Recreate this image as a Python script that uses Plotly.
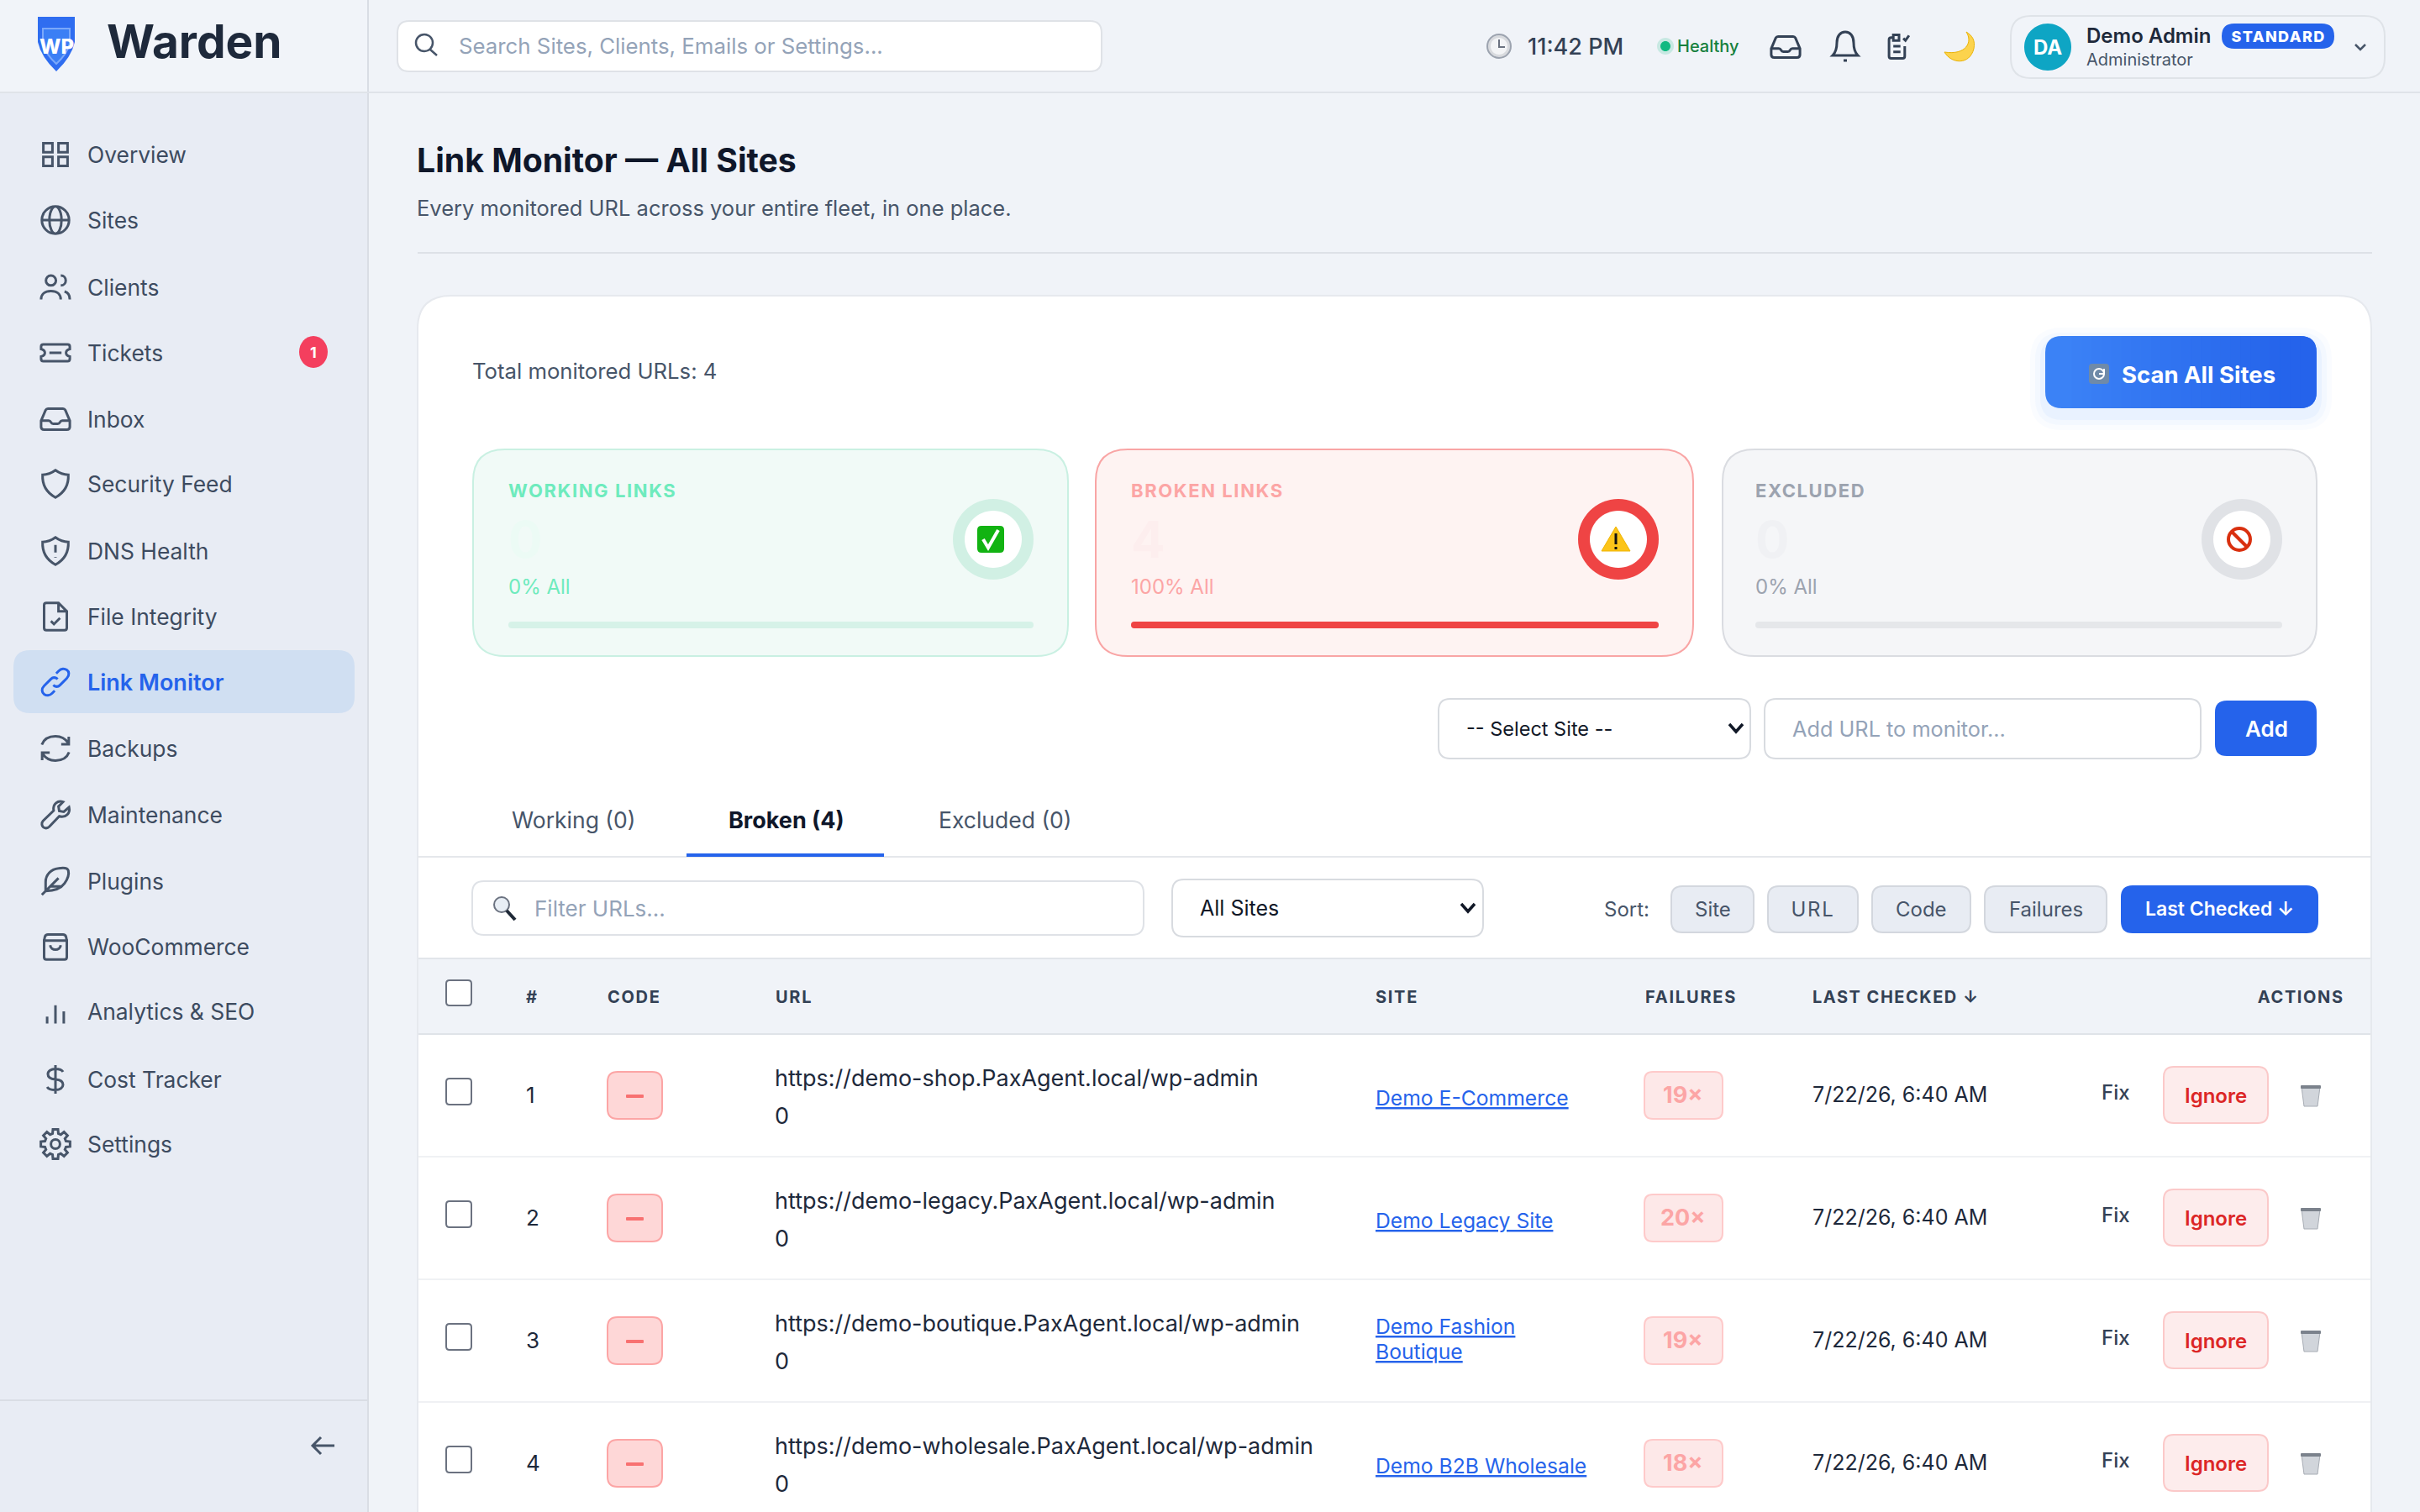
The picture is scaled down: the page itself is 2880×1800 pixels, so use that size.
import json
import math
import re
import plotly.graph_objects as go

# ---------- content ----------
NAV_LABELS = ["Overview", "Sites", "Clients", "Tickets", "Inbox", "Security Feed", "DNS Health",
              "File Integrity", "Link Monitor", "Backups", "Maintenance", "Plugins", "WooCommerce",
              "Analytics & SEO", "Cost Tracker", "Settings"]
NAV_ICONS = ["overview", "sites", "clients", "tickets", "inbox", "shield", "dns", "file", "link",
             "backups", "wrench", "feather", "bag", "bars", "dollar", "gear"]
NAV_Y = [184, 262, 342, 420, 499, 576, 656, 734, 812, 891, 970, 1049, 1127, 1204, 1285, 1362]

STAT_LABELS = ["WORKING LINKS", "BROKEN LINKS", "EXCLUDED"]
STAT_VALUES = ["0", "4", "0"]
STAT_SHARES = [0, 100, 0]

TAB_LABELS = ["Working (0)", "Broken (4)", "Excluded (0)"]
SORT_LABELS = ["Site", "URL", "Code", "Failures", "Last Checked ↓"]
ROW_IDS = ["1", "2", "3", "4"]
ROW_URLS = ["https://demo-shop.PaxAgent.local/wp-admin", "https://demo-legacy.PaxAgent.local/wp-admin",
            "https://demo-boutique.PaxAgent.local/wp-admin", "https://demo-wholesale.PaxAgent.local/wp-admin"]
ROW_SITES = [["Demo E-Commerce"], ["Demo Legacy Site"], ["Demo Fashion", "Boutique"], ["Demo B2B Wholesale"]]
ROW_FAILS = ["19×", "20×", "19×", "18×"]
ROW_CHECKED = ["7/22/26, 6:40 AM"] * 4
HEAD_LABELS = ["#", "CODE", "URL", "SITE", "FAILURES", "LAST CHECKED ↓"]

INTER = "Inter"
shapes, notes = [], []
TRACKED = {"WORKING LINKS": 1.6, "BROKEN LINKS": 1.6, "EXCLUDED": 1.6, "STANDARD": 1.4,
           "#": 0, "CODE": 1.7, "URL": 1.7, "SITE": 1.7, "FAILURES": 1.8, "LAST CHECKED ↓": 1.5, "ACTIONS": 1.6}


# ---------- helpers ----------
def text(x, y, s, size=26, color="#475569", weight=400, anchor="left", under=False, family=INTER):
    font = dict(family=family, size=size, color=color, weight=weight)
    if under:
        font["lineposition"] = "under"
    notes.append(dict(x=x, y=y, xref="x", yref="y", text=s, showarrow=False, xanchor=anchor, align=anchor,
                      yanchor="middle", font=font, borderpad=0, borderwidth=0))


def path(d, fill=None, line=None, width=0, opacity=1.0):
    shapes.append(dict(type="path", path=d, xref="x", yref="y", fillcolor=fill or "rgba(0,0,0,0)",
                       line=dict(color=line or "rgba(0,0,0,0)", width=width), opacity=opacity))


def rr(x0, y0, x1, y1, r):
    return (f"M{x0+r} {y0} L{x1-r} {y0} Q{x1} {y0} {x1} {y0+r} L{x1} {y1-r} Q{x1} {y1} {x1-r} {y1} "
            f"L{x0+r} {y1} Q{x0} {y1} {x0} {y1-r} L{x0} {y0+r} Q{x0} {y0} {x0+r} {y0} Z")


def box(x0, y0, x1, y1, r=0, fill=None, line=None, width=0, opacity=1.0):
    path(rr(x0, y0, x1, y1, r), fill, line, width, opacity)


def circ(cx, cy, rx, ry=None):
    ry = rx if ry is None else ry
    k = 0.5523
    return (f"M{cx-rx} {cy} C{cx-rx} {cy-k*ry} {cx-k*rx} {cy-ry} {cx} {cy-ry} "
            f"C{cx+k*rx} {cy-ry} {cx+rx} {cy-k*ry} {cx+rx} {cy} "
            f"C{cx+rx} {cy+k*ry} {cx+k*rx} {cy+ry} {cx} {cy+ry} "
            f"C{cx-k*rx} {cy+ry} {cx-rx} {cy+k*ry} {cx-rx} {cy} Z")


def place(d, cx, cy, s=1.5, box_size=24):
    out, is_x = [], True
    for tok in re.findall(r"[A-Za-z]|-?\d+\.?\d*", d):
        if tok.isalpha():
            out.append(tok)
            is_x = True
        else:
            v = float(tok) - box_size / 2
            out.append(f"{(cx if is_x else cy) + v * s:.2f}")
            is_x = not is_x
    return " ".join(out)


def gear():
    pts = []
    n = 8
    for i in range(n):
        a = 2 * math.pi * i / n
        for da, r in ((-0.27, 7.2), (-0.17, 9.8), (0.17, 9.8), (0.27, 7.2)):
            pts.append((12 + r * math.cos(a + da), 12 + r * math.sin(a + da)))
    return "M" + " L".join(f"{x:.2f} {y:.2f}" for x, y in pts) + " Z " + circ(12, 12, 3)


SHIELD = "M12 3 Q16 6 20.5 6 Q21 16 12 21 Q3 16 3.5 6 Q8 6 12 3 Z"
ICONS = {
    "overview": "M4 4.5 L10 4.5 L10 10.5 L4 10.5 Z M14 4.5 L20 4.5 L20 10.5 L14 10.5 Z "
                "M4 13.5 L10 13.5 L10 19.5 L4 19.5 Z M14 13.5 L20 13.5 L20 19.5 L14 19.5 Z",
    "sites": circ(12, 12, 9) + " " + circ(12, 12, 4, 9) + " M3 12 L21 12",
    "clients": circ(9, 7.5, 3.3) + " M2.5 20 C2.5 16.5 5 14.5 9 14.5 C13 14.5 15.5 16.5 15.5 20 "
               "M15.5 4.2 C17.5 4.2 18.8 5.8 18.8 7.5 C18.8 9.2 17.5 10.8 15.5 10.8 "
               "M18 14.8 C20.2 15.4 21.5 17.4 21.5 20",
    "tickets": "M4 6.5 L20 6.5 Q21.5 6.5 21.5 8 L21.5 9.5 Q19 10.2 19 12 Q19 13.8 21.5 14.5 L21.5 16 "
               "Q21.5 17.5 20 17.5 L4 17.5 Q2.5 17.5 2.5 16 L2.5 14.5 Q5 13.8 5 12 Q5 10.2 2.5 9.5 "
               "L2.5 8 Q2.5 6.5 4 6.5 Z M8 12 L16 12",
    "inbox": "M2.5 13 L5.5 6 Q6 5 7 5 L17 5 Q18 5 18.5 6 L21.5 13 L21.5 17 Q21.5 19 19.5 19 L4.5 19 "
             "Q2.5 19 2.5 17 Z M2.5 13 L7.5 13 Q8.5 13 9 14 Q9.5 15 10.5 15 L13.5 15 Q14.5 15 15 14 "
             "Q15.5 13 16.5 13 L21.5 13",
    "shield": SHIELD,
    "dns": SHIELD + " M12 8 L12 13 M12 16 L12 16.4",
    "file": "M7 3 L14 3 L19.5 8.5 L19.5 19.5 Q19.5 21 18 21 L6 21 Q4.5 21 4.5 19.5 L4.5 4.5 Q4.5 3 6 3 Z "
            "M14 3 L14 8.5 L19.5 8.5 M9 15 L11 17 L15 13",
    "link": "M10.5 14 Q13 16 15 14 L19.5 9.5 C21.5 7.5 21 5 19.5 4 C18 3 15.8 3 14.3 4.5 L12.5 6.3 "
            "M13.5 10 Q11 8 9 10 L4.5 14.5 C2.5 16.5 3 19 4.5 20 C6 21 8.2 21 9.7 19.5 L11.5 17.7",
    "backups": "M3 9.5 C4.5 5.5 8 4 12 4 C15.5 4 18.5 5.5 20.5 8.5 M20.8 4.2 L20.8 9.2 L15.8 9.2 "
               "M21 14.5 C19.5 18.5 16 20 12 20 C8.5 20 5.5 18.5 3.5 15.5 M3.2 19.8 L3.2 14.8 L8.2 14.8",
    "wrench": "M21 7 L17.5 10 L14.5 9.5 L14 6.5 L17 3.5 C13.5 2.2 10 5 10.8 9.2 L3.8 16 C2.5 17.5 3 19.5 4 20.2 "
              "C5.2 21 6.8 21 8 19.8 L14.5 13 C18.8 14.2 22 11 21 7 Z",
    "feather": "M3 21 L14 10 M5.5 18.5 L5.5 12.5 C5.5 8 9 4 14 3.5 C17 3 20 3 20.5 5 C21 7 20.5 10 18 13.5 "
               "C15.5 17 11 18.5 5.5 18.5 Z M9 15.5 L15.5 15.5",
    "bag": "M4.5 8 L19.5 8 L19.5 19 Q19.5 20.5 18 20.5 L6 20.5 Q4.5 20.5 4.5 19 Z M4.5 8 L5 5.5 Q5.5 4 7 4 "
           "L17 4 Q18.5 4 19 5.5 L19.5 8 M8.5 11 C9 15 15 15 15.5 11",
    "bars": "M6.5 20 L6.5 15.5 M12 20 L12 8 M17.5 20 L17.5 12",
    "dollar": "M12 2.5 L12 21.5 M17 7 C16 5.2 14 5 12 5 C9 5 7 6.5 7 8.5 C7 11 9.5 11.8 12 12 "
              "C14.5 12.2 17 13 17 15.5 C17 17.5 15 19 12 19 C9.5 19 7.5 18.7 6.5 17",
    "gear": gear(),
    "bell": "M4.5 17.5 C6.5 15.5 7 12 7 10 C7 6 9 3.5 12 3.5 C15 3.5 17 6 17 10 C17 12 17.5 15.5 19.5 17.5 Z "
            "M11 20.5 L13 20.5",
    "clip": "M7.5 6 L6.5 6 Q5 6 5 7.5 L5 19 Q5 20.5 6.5 20.5 L14.5 20.5 Q16 20.5 16 19 L16 12 "
            "M8 4 L12 4 L12 8 L8 8 Z M8 12 L13 12 M8 16 L13 16 M15 6.5 L16.5 8 L19 4.5",
}


def icon(name, cx, cy, color="#475569", s=1.8, width=3):
    path(place(ICONS[name], cx, cy, s), None, color, width)


# ---------- page frame ----------
PAGE = "#f0f3f8"
box(0, 110, 438, 1800, 0, "#e8ecf4")
box(0, 0, 438, 110, 0, "#f1f4f9")
box(437, 0, 439, 1800, 0, "#d9dde4")
box(0, 109, 2880, 111, 0, "#dfe3e9")

# logo
path("M45 20 L89 20 L89 50 Q85 68 67 85 Q49 68 45 50 Z", "#2f6df0")
path("M51 34 L83 34 L83 52 Q80 64 67 76 Q54 64 51 52 Z", "#3b7ff5", "#7aa8fa", 2)
text(67, 55, "WP", 24, "#ffffff", 800, "center")
text(127, 49, "Warden", 55, "#1e293b", 700)

# search
box(473, 25, 1311, 85, 14, "#ffffff", "#dfe2e7", 2)
path(circ(505, 51, 10) + " M512 59 L520 66", None, "#475569", 2.5)
text(546, 54, "Search Sites, Clients, Emails or Settings...", 25.8, "#94a3b8")

# header right
path(circ(1784, 55, 14), "#d8dade", "#9ca3af", 2)
path(circ(1784, 55, 10), "#f3f4f6")
path("M1784 47 L1784 56 L1791 56", None, "#6b7280", 2)
text(1818, 55, "11:42 PM", 27, "#334155", 500)
path(circ(1982, 55, 10), "#10b981", opacity=0.18)
path(circ(1982, 55, 6), "#10b981")
text(1996, 55, "Healthy", 20, "#15803d", 500)
icon("inbox", 2125, 56, "#334155", 1.8)
icon("bell", 2196, 55, "#334155", 2.0)
icon("clip", 2260, 55, "#334155", 1.7)
path("M2340 38 C2348 50 2340 66 2314 62 C2322 76 2344 78 2349 58 C2351 48 2347 42 2340 38 Z", "#fcd34d", "#eab308", 1)
box(2393, 19, 2838, 93, 24, "#f1f4f9", "#dfe3e8", 2)
path(circ(2437, 56, 28), "#0ea5c4")
text(2437, 56, "DA", 24, "#ffffff", 700, "center")
text(2483, 42, "Demo Admin", 24, "#1e293b", 600)
box(2644, 28, 2778, 58, 15, "#2563eb")
text(2711, 43, "STANDARD", 18, "#ffffff", 800, "center")
text(2483, 71, "Administrator", 20, "#475569", 400)
path("M2803 53 L2809 59 L2815 53", None, "#475569", 2.5)

# sidebar
box(16, 774, 422, 849, 20, "#d0dff2")
for label, ic, y in zip(NAV_LABELS, NAV_ICONS, NAV_Y):
    active = label == "Link Monitor"
    icon(ic, 66, y, "#2563eb" if active else "#475569")
    text(104, y, label, 27 if active else 26.4, "#2563eb" if active else "#3d4b60", 600 if active else 400)
path(circ(373, 419, 17, 19), "#f43f5e")
text(373, 419, "1", 18, "#ffffff", 700, "center")
box(0, 1666, 438, 1668, 0, "#d9dde4")
path("M398 1721 L372 1721 M382 1711 L372 1721 L382 1731", None, "#475569", 3)

# page title
text(496, 190, "Link Monitor — All Sites", 39.2, "#0f172a", 700)
text(496, 247, "Every monitored URL across your entire fleet, in one place.", 25.5, "#475569")
box(497, 300, 2823, 302, 0, "#dde1e7")

# main card
box(497, 352, 2822, 1840, 40, "#ffffff", "#e6e9ee", 2)
text(562, 441, "Total monitored URLs: 4", 25.7, "#475569")

# scan button
for grow, alpha in ((18, 0.025), (12, 0.035), (6, 0.05)):
    box(2434 - grow, 400 - grow + 8, 2757 + grow, 486 + grow + 8, 20 + grow, "#3b82f6", opacity=alpha)
box(2434, 400, 2757, 486, 20, "#3b82f6")
box(2600, 400, 2757, 486, 20, "#2563eb")
STRIPS = 24
for i in range(STRIPS):
    t = i / (STRIPS - 1)
    col = f"rgb({int(59 - 22 * t)},{int(130 - 31 * t)},{int(246 - 11 * t)})"
    box(2454 + 283 * i / STRIPS, 400, 2454 + 283 * (i + 1) / STRIPS + 0.5, 486, 0, col)
box(2486, 433, 2510, 457, 4, "#6f8aa8")
path(circ(2498, 445, 6) + " M2504 439 L2504 445 L2498 445", None, "#ffffff", 2)
text(2525, 446, "Scan All Sites", 27.5, "#ffffff", 700)

# stat cards
CARD_X = [(563, 1271), (1304, 2015), (2050, 2757)]
LABEL_X = [605, 1346, 2089]
CARD_FILL = ["#f1faf7", "#fef3f2", "#f5f6f8"]
CARD_EDGE = ["#c9f0e2", "#f9a5a5", "#dadce1"]
LABEL_COL = ["#6eebbd", "#fca5a5", "#9ca3af"]
VALUE_COL = ["#ecfbf5", "#fdeeee", "#f0f1f4"]
RING_COL = ["#d1f0e4", "#ef4444", "#e0e2e6"]
TRACK_COL = ["#d6f2e8", "#f9dcdc", "#e5e7ea"]
FILL_COL = ["#10b981", "#ef4444", "#9ca3af"]
for k in range(3):
    x0, x1 = CARD_X[k]
    box(x0, 535, x1, 781, 38, CARD_FILL[k], CARD_EDGE[k], 2)
    lx = LABEL_X[k]
    text(lx, 584, STAT_LABELS[k], 22, LABEL_COL[k], 700)
    text(lx, 642, STAT_VALUES[k], 60, VALUE_COL[k], 700)
    text(lx, 698, f"{STAT_SHARES[k]}% All", 24, LABEL_COL[k])
    rx = x1 - 41
    box(lx, 740, rx, 748, 4, TRACK_COL[k])
    if STAT_SHARES[k]:
        box(lx, 740, lx + (rx - lx) * STAT_SHARES[k] / 100, 748, 4, FILL_COL[k])
    cx = rx - 48
    path(circ(cx, 642, 48), RING_COL[k])
    path(circ(cx, 642, 34), "#ffffff")
    ex = cx - 3
    if k == 0:
        box(ex - 16, 626, ex + 16, 658, 5, "#12b312")
        path(f"M{ex-9} 642 L{ex-3} 652 L{ex+9} 631", None, "#ffffff", 4)
    elif k == 1:
        path(f"M{ex} 627 L{ex+17} 656 L{ex-17} 656 Z", "#fcc419", "#f0b400", 1)
        path(f"M{ex} 635 L{ex} 648 M{ex} 651 L{ex} 654", None, "#111111", 3)
    else:
        path(circ(ex, 642, 13), None, "#d9300f", 4)
        path(f"M{ex-9} 633 L{ex+9} 651", None, "#d9300f", 4)

# add-url row
box(1712, 832, 2083, 903, 14, "#ffffff", "#d8dbe0", 2)
text(1745, 867, "-- Select Site --", 23.5, "#111827")
path("M2058 862 L2066 871 L2074 862", None, "#111827", 3.5)
box(2100, 832, 2619, 903, 14, "#ffffff", "#d8dbe0", 2)
text(2133, 867, "Add URL to monitor...", 25.3, "#94a3b8")
box(2636, 834, 2757, 900, 14, "#2563eb")
text(2697, 867, "Add", 26, "#ffffff", 600, "center")

# tabs
TAB_X = [682, 936, 1196]
for i, (lab, tx) in enumerate(zip(TAB_LABELS, TAB_X)):
    text(tx, 976, lab, 27 if i == 1 else 26.5, "#0f172a" if i == 1 else "#475569", 700 if i == 1 else 400, "center")
box(497, 1019, 2822, 1021, 0, "#e5e7eb")
box(817, 1016, 1052, 1020, 0, "#2563eb")

# filter row
box(562, 1049, 1361, 1113, 14, "#ffffff", "#dfe2e7", 2)
path(circ(597, 1077, 9), "#e8eef5", "#6b7280", 2)
path("M603 1084 L613 1095", None, "#1f2937", 4)
text(636, 1081, "Filter URLs...", 26, "#94a3b8")
box(1395, 1047, 1765, 1115, 14, "#ffffff", "#d8dbe0", 2)
text(1428, 1081, "All Sites", 25, "#111827")
path("M1739 1076 L1747 1085 L1755 1076", None, "#111827", 3.5)
text(1909, 1082, "Sort:", 24, "#475569")
SORT_X = [(1989, 2087), (2104, 2211), (2228, 2345), (2362, 2507), (2525, 2758)]
for i, (lab, (a, b)) in enumerate(zip(SORT_LABELS, SORT_X)):
    on = i == len(SORT_LABELS) - 1
    box(a, 1055, b, 1110, 13, "#2563eb" if on else "#e8ecf3", "#2563eb" if on else "#d3d7de", 2)
    text((a + b) / 2, 1082, lab, 23 if on else 24, "#ffffff" if on else "#475569", 600 if on else 400, "center")

# table header
box(498, 1141, 2821, 1231, 0, "#f0f3f8")
box(498, 1140, 2821, 1142, 0, "#e2e5ea")
box(498, 1230, 2821, 1232, 0, "#dfe3e8")
box(531, 1167, 561, 1197, 4, "#ffffff", "#6b7280", 2)
HEAD_X = [626, 723, 923, 1637, 1958, 2157]
for lab, hx in zip(HEAD_LABELS, HEAD_X):
    text(hx, 1187, lab, 20, "#334155", 700)
text(2790, 1187, "ACTIONS", 20, "#334155", 700, "right")

# table rows
ROW0, ROW_H = 1304, 146
for i, rid in enumerate(ROW_IDS):
    yc = ROW0 + i * ROW_H
    if i < 3:
        box(498, yc + 72, 2821, yc + 74, 0, "#f0f1f4")
    box(531, yc - 20, 561, yc + 11, 4, "#ffffff", "#6b7280", 2)
    text(626, yc - 1, rid, 26, "#1e293b")
    box(723, yc - 28, 788, yc + 28, 12, "#fed7d7", "#fca5a5", 2)
    box(745, yc - 1, 766, yc + 3, 1, "#f87171")
    text(922, yc - 21, ROW_URLS[i], 27, "#1e293b")
    text(922, yc + 24, "0", 27, "#1e293b")
    lines = ROW_SITES[i]
    if len(lines) == 1:
        text(1637, yc + 3, lines[0], 24.7, "#2563eb", under=True)
    else:
        text(1637, yc - 17, lines[0], 24.7, "#2563eb", under=True)
        text(1637, yc + 13, lines[1], 24.7, "#2563eb", under=True)
    box(1957, yc - 28, 2050, yc + 28, 10, "#fde8e8", "#fecaca", 2)
    text(2003, yc - 1, ROW_FAILS[i], 27, "#fca5a5", 700, "center")
    text(2157, yc - 1, ROW_CHECKED[i], 25, "#1e293b")
    text(2501, yc - 4, "Fix", 24, "#334155", 500)
    box(2575, yc - 34, 2699, yc + 33, 12, "#fdecec", "#fbc9c9", 2)
    text(2637, yc, "Ignore", 24, "#dc2626", 600, "center")
    path(f"M2739 {yc-10} L2761 {yc-10} L2758 {yc+13} L2742 {yc+13} Z", "#d1d5db", "#a8adb5", 1)
    box(2738, yc - 12, 2762, yc - 8, 1, "#7b828c")

fig = go.Figure()
fig.update_layout(
    width=2880, height=1800, margin=dict(l=0, r=0, t=0, b=0, pad=0), autosize=False,
    paper_bgcolor=PAGE, plot_bgcolor=PAGE, showlegend=False,
    xaxis=dict(range=[0, 2880], visible=False, fixedrange=True),
    yaxis=dict(range=[1800, 0], visible=False, fixedrange=True),
    shapes=shapes, annotations=notes,
)
spacing_js = (
    "var m=" + json.dumps(TRACKED, ensure_ascii=False) + ";"
    "document.querySelectorAll('.annotation-text').forEach(function(e){"
    "var v=m[e.textContent];if(v){e.style.letterSpacing=v+'px';}});"
    "document.body.style.margin='0';document.body.style.background='#f0f3f8';"
)
fig.write_html("out.html", config=dict(displayModeBar=False), post_script=spacing_js)
